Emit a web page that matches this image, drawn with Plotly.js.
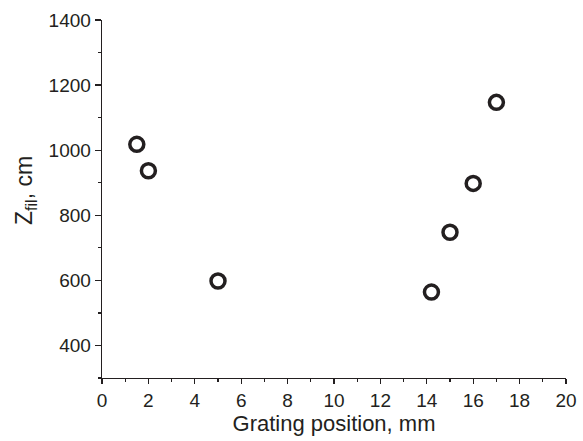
<!DOCTYPE html>
<html>
<head>
<meta charset="utf-8">
<script src="https://cdn.plot.ly/plotly-3.0.1.min.js"></script>
<style>html,body{margin:0;padding:0;background:#fff;}#chart{width:583px;height:441px;}</style>
</head>
<body>
<div id="chart"></div>
<script>
const gratingPosition = [1.5, 2, 5, 14.2, 15, 16, 17];
const zFil = [1018, 937, 598, 564, 748, 898, 1147];
const xTicks = [0, 2, 4, 6, 8, 10, 12, 14, 16, 18, 20];
const yTicks = [400, 600, 800, 1000, 1200, 1400];
const xTitle = 'Grating position, mm';
const yTitle = 'Z<sub>fil</sub>, cm';

const ink = '#231f20';
const fontFam = 'Liberation Sans, Arial, sans-serif';

Plotly.newPlot('chart', [{
  x: gratingPosition,
  y: zFil,
  type: 'scatter',
  mode: 'markers',
  marker: {symbol: 'circle-open', size: 14, color: ink, line: {width: 3.5, color: ink}},
  showlegend: false
}], {
  width: 583, height: 441,
  margin: {l: 102, r: 17, t: 20, b: 63},
  paper_bgcolor: '#fff', plot_bgcolor: '#fff',
  font: {family: fontFam, size: 19, color: ink},
  xaxis: {
    range: [0, 20], tickvals: xTicks, ticktext: xTicks.map(String),
    showline: true, linecolor: ink, linewidth: 1.3, mirror: false,
    ticks: 'outside', ticklen: 5, tickwidth: 1.3, tickcolor: ink,
    minor: {dtick: 1, ticks: 'outside', ticklen: 3, tickwidth: 1.3, tickcolor: ink, showgrid: false},
    showgrid: false, zeroline: false,
    tickfont: {size: 19, color: ink, family: fontFam},
    title: {text: xTitle, font: {size: 22, color: ink, family: fontFam}, standoff: 0}
  },
  yaxis: {
    range: [300, 1400], tickvals: yTicks, ticktext: yTicks.map(String),
    showline: true, linecolor: ink, linewidth: 1.3, mirror: false,
    ticks: 'outside', ticklen: 6, tickwidth: 1.3, tickcolor: ink,
    minor: {dtick: 100, tick0: 300, ticks: 'outside', ticklen: 3, tickwidth: 1.3, tickcolor: ink, showgrid: false},
    showgrid: false, zeroline: false,
    tickfont: {size: 19, color: ink, family: fontFam}
  },
  annotations: [{
    text: yTitle, textangle: -90, showarrow: false,
    xref: 'paper', yref: 'paper',
    x: (25 - 102) / 464, y: (378 - 191) / 358,
    xanchor: 'center', yanchor: 'middle',
    font: {size: 23, color: ink, family: fontFam}
  }]
}, {displayModeBar: false, staticPlot: true});
</script>
</body>
</html>
